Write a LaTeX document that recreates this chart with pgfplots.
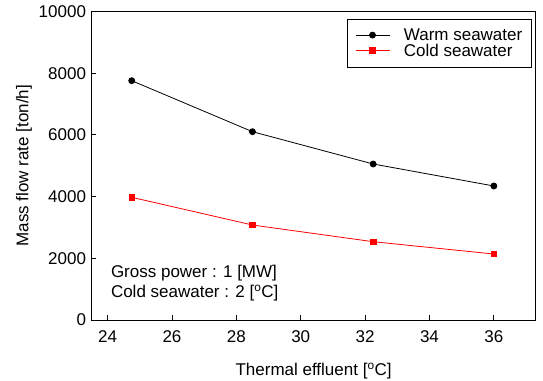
\documentclass[border=0pt]{standalone}
\usepackage{fontspec}
\setmainfont{Liberation Sans}
\usepackage{pgfplots}
\pgfplotsset{compat=1.18}
\begin{document}
\begin{tikzpicture}
\begin{axis}[
  name=ax,
  scale only axis,
  width=444.2bp, height=308.5bp,
  xmin=23.5, xmax=37.3,
  ymin=0, ymax=10000,
  xtick={24,26,...,36},
  ytick={0,2000,...,10000},
  tick pos=left,
  tick align=inside,
  major tick length=4.5bp,
  axis line style={line width=0.9bp},
  tick style={line width=0.8bp, black},
  /pgf/number format/assume math mode=true,
  scaled y ticks=false,
  yticklabel style={/pgf/number format/1000 sep={}, font=\fontsize{17bp}{19bp}\selectfont, xshift=-2bp},
  xticklabel style={font=\fontsize{17bp}{19bp}\selectfont, yshift=-7bp},
  label style={font=\fontsize{17bp}{19bp}\selectfont},
  xlabel={Thermal effluent [\textsuperscript{o}C]},
  xlabel style={at={(rel axis cs:0.5,0)}, anchor=center, yshift=-51bp},
  ylabel={Mass flow rate [ton/h]},
  legend style={at={(rel axis cs:0.991,0.977)}, anchor=north east,
    font=\fontsize{17bp}{19bp}\selectfont, draw=black, line width=0.8bp,
    inner xsep=8bp, inner ysep=8.5bp, row sep=0bp,
    nodes={inner sep=1bp}},
  legend cell align=left,
  legend image code/.code={\draw[mark repeat=2,mark phase=2,#1] plot coordinates {(0bp,0bp) (17bp,0bp) (34bp,0bp)}; \path (47bp,0bp);},
]
\addplot[black, line width=0.8bp, mark=*, mark size=3bp] coordinates {
  (24.75,7757) (28.5,6104) (32.25,5057) (36,4344)};
\addlegendentry{Warm seawater}
\addplot[red, line width=0.8bp, mark=square*, mark size=2.8bp] coordinates {
  (24.75,3977) (28.5,3079) (32.25,2538) (36,2139)};
\addlegendentry{Cold seawater}
\node[anchor=west, font=\fontsize{17bp}{19bp}\selectfont, align=left, inner sep=0pt]
  at (axis cs:24.1,1200) {Gross power : 1 [MW]\\[1bp]Cold seawater : 2 [\textsuperscript{o}C]};
\end{axis}
\pgfresetboundingbox
\path (ax.south west)++(-91.5bp,-61bp) coordinate (bl);
\path (ax.north east)++(7.3bp,11.5bp) coordinate (tr);
\path[use as bounding box] (bl) rectangle (tr);
\end{tikzpicture}
\end{document}
